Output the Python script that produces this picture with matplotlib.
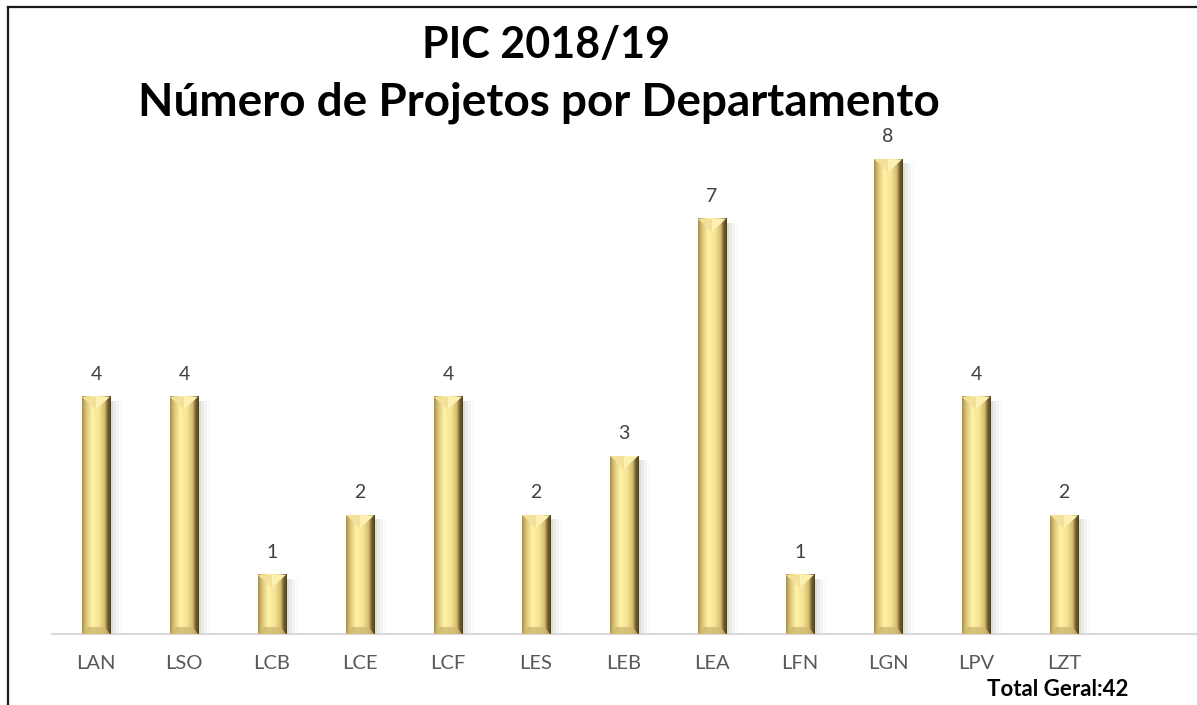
import numpy as np
import matplotlib.pyplot as plt
from matplotlib.colors import LinearSegmentedColormap
from matplotlib.patches import Polygon, Rectangle
from matplotlib.lines import Line2D

departamentos = ['LAN', 'LSO', 'LCB', 'LCE', 'LCF', 'LES', 'LEB', 'LEA', 'LFN', 'LGN', 'LPV', 'LZT']
projetos = [4, 4, 1, 2, 4, 2, 3, 7, 1, 8, 4, 2]

plt.rcParams['font.family'] = ['Lato', 'DejaVu Sans']

W, H = 1197, 705
fig = plt.figure(figsize=(W / 100, H / 100), dpi=100)
ax = fig.add_axes([52 / W, (H - 634) / H, (1196 - 52) / W, (634 - 100) / H])

x = np.arange(len(departamentos))
bars = ax.bar(x, projetos, width=0.32, color='none', zorder=3)

# gradiente horizontal do "bisel" dourado
ouro = LinearSegmentedColormap.from_list('ouro', [
    (0.00, '#a89048'), (0.12, '#d6bf78'), (0.35, '#fff3a4'),
    (0.60, '#f6e394'), (0.80, '#d2b96c'), (0.88, '#7a6a3c'), (1.00, '#4a3f25')])
grad = np.linspace(0, 1, 64).reshape(1, -1)

px = 1 / 59.3  # altura de 1 pixel em unidades de dados
for b in bars:
    x0, w, h = b.get_x(), b.get_width(), b.get_height()
    # sombra suave a direita
    for k, a in enumerate([0.10, 0.07, 0.05, 0.03]):
        ax.add_patch(Rectangle((x0 + w, 0), (k + 1) * 0.035, h - 4 * px,
                               color='#6f8060', alpha=a, lw=0, zorder=2))
    ax.imshow(grad, cmap=ouro, extent=[x0, x0 + w, 0, h], aspect='auto',
              zorder=3, interpolation='bicubic')
    d = 13 * px
    ax.add_patch(Polygon([[x0, h], [x0 + w / 2, h], [x0 + w / 2, h - d]],
                         closed=True, color='#f4df98', lw=0, zorder=4))
    ax.add_patch(Polygon([[x0 + w / 2, h], [x0 + w, h], [x0 + w / 2, h - d]],
                         closed=True, color='#fdf0b0', lw=0, zorder=4))
    ax.add_patch(Polygon([[x0, 0], [x0 + w, 0], [x0 + w * 0.8, 7 * px], [x0 + w * 0.2, 7 * px]],
                         closed=True, color='#cfb870', alpha=0.8, lw=0, zorder=4))
    ax.annotate(str(int(h)), (x0 + w / 2, h), xytext=(0, 10), textcoords='offset points',
                ha='center', va='bottom', fontsize=14, color='#404040')

ax.set_xlim(-0.5, 12.5)
ax.set_ylim(0, 9)
ax.set_xticks(x)
ax.set_xticklabels(departamentos, fontsize=14.5, color='#595959')
ax.tick_params(axis='x', length=0, pad=15)
ax.set_yticks([])
for s in ['top', 'right', 'left']:
    ax.spines[s].set_visible(False)
ax.spines['bottom'].set_color('#d9d9d9')
ax.spines['bottom'].set_linewidth(1.5)

fig.text(546 / W, 1 - 45 / H, 'PIC 2018/19', ha='center', va='center',
         fontsize=31, fontweight='bold', color='black')
fig.text(539 / W, 1 - 103 / H, 'Número de Projetos por Departamento', ha='center', va='center',
         fontsize=33, fontweight='bold', color='black')
fig.text(1058 / W, 1 - 690 / H, 'Total Geral:42', ha='center', va='center',
         fontsize=16, fontweight='bold', color='black')

# moldura
fig.add_artist(Line2D([8 / W, 8 / W], [0, 1 - 7 / H], color='#1a1a1a', lw=1.6))
fig.add_artist(Line2D([8 / W, 1], [1 - 7 / H, 1 - 7 / H], color='#1a1a1a', lw=1.6))

fig.savefig('out.png', dpi=100)
